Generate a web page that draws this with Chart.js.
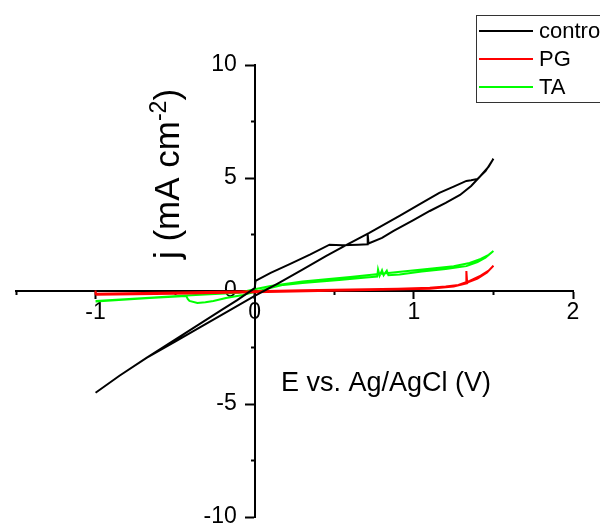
<!DOCTYPE html>
<html><head><meta charset="utf-8">
<script src="https://cdn.jsdelivr.net/npm/chart.js@4/dist/chart.umd.min.js"></script>
<style>html,body{margin:0;padding:0;background:#fff;}</style>
</head><body>
<canvas id="c" width="600" height="524"></canvas>
<script>
// ---- data ----
const seriesNames = ['control', 'PG', 'TA'];
const seriesColors = ['#000000', '#ff0000', '#00ff00'];
const xTickValues = [-1, 0, 1, 2];
const xMinorTickValues = [-1.5, -0.5, 0.5, 1.5];
const yTickValues = [-10, -5, 0, 5, 10];
const yMinorTickValues = [-7.5, -2.5, 2.5, 7.5];
const xTitle = 'E vs. Ag/AgCl (V)';
const yTitleMain = 'j (mA cm';
const yTitleSup = '-2';
const yTitleEnd = ')';

const controlE = [-1.00,-0.85,-0.68,-0.50,-0.35,-0.20,-0.11,0.00,0.005,0.10,0.22,0.35,0.47,0.55,0.65,0.71,0.71,0.715,0.80,0.87,1.00,1.10,1.20,1.29,1.36,1.42,1.47,1.50,
  1.45,1.40,1.36,1.33,1.25,1.16,1.04,0.91,0.72,0.58,0.45,0.30,0.15,0.00,-0.15,-0.35,-0.50,-0.68,-0.85,-1.00];
const controlJ = [-4.50,-3.75,-2.96,-2.15,-1.48,-0.80,-0.40,0.13,0.45,0.80,1.19,1.62,2.05,2.02,2.05,2.07,2.50,2.10,2.35,2.65,3.15,3.54,3.90,4.25,4.65,5.10,5.50,5.85,
  5.30,4.96,4.90,4.87,4.62,4.34,3.85,3.32,2.57,2.05,1.55,0.95,0.35,-0.22,-0.82,-1.63,-2.24,-2.96,-3.75,-4.50];

const pgE = [-1.00,-1.00,-0.50,0.00,0.30,0.60,0.90,1.10,1.20,1.28,1.35,1.42,1.47,1.50,
  1.46,1.40,1.34,1.33,1.33,1.335,1.25,1.10,0.80,0.40,0.00,-0.50,-1.00];
const pgJ = [0.02,-0.12,-0.07,-0.01,0.03,0.07,0.10,0.14,0.20,0.27,0.45,0.68,0.90,1.12,
  0.82,0.55,0.38,0.36,0.88,0.34,0.20,0.10,0.05,0.00,-0.06,-0.12,-0.17];

const taE = [-1.00,-0.66,-0.43,-0.42,-0.41,-0.36,-0.31,-0.26,-0.18,-0.075,0.05,0.18,0.30,0.53,0.70,0.77,0.775,0.785,0.80,0.81,0.83,0.84,0.91,1.05,1.20,1.33,1.40,1.45,1.50,
  1.47,1.42,1.35,1.25,1.10,0.90,0.60,0.30,0.10,0.00,-0.10,-0.43,-0.66,-1.00];
const taJ = [-0.46,-0.31,-0.22,-0.36,-0.44,-0.53,-0.50,-0.44,-0.31,-0.18,0.05,0.27,0.35,0.49,0.60,0.64,0.95,0.68,0.92,0.70,0.90,0.70,0.73,0.86,0.97,1.10,1.28,1.47,1.77,
  1.60,1.42,1.24,1.10,0.98,0.84,0.62,0.42,0.22,0.08,-0.08,-0.20,-0.30,-0.44];

const seriesE = [controlE, pgE, taE];
const seriesJ = [controlJ, pgJ, taJ];

const FONT = 'Arial, "Liberation Sans", sans-serif';
const X_MIN = -1.5, X_MAX = 2, Y_MIN = -10, Y_MAX = 10;
const PAD = { left: 16, right: 27, top: 65, bottom: 7 };
const yLabelGapPx = 18; // tick length + padding, left of the y axis
const yLabelAxisX = -yLabelGapPx * (X_MAX - X_MIN) / (600 - PAD.left - PAD.right);

const datasets = seriesNames.map((name, i) => ({
  label: name,
  data: seriesE[i].map((e, k) => ({x: e, y: seriesJ[i][k]})),
  borderColor: seriesColors[i],
  backgroundColor: seriesColors[i],
  borderWidth: 2,
  pointRadius: 0,
  showLine: true,
  tension: 0,
  fill: false
}));

const noPad = s => { s.paddingLeft = 0; s.paddingRight = 0; s.paddingTop = 0; s.paddingBottom = 0; };

const decor = {
  id: 'decor',
  afterDraw(chart) {
    const ctx = chart.ctx;
    ctx.save();
    ctx.fillStyle = '#000';
    // x title
    ctx.font = '27px ' + FONT;
    ctx.textAlign = 'center';
    ctx.textBaseline = 'alphabetic';
    ctx.fillText(xTitle, 386, 391);
    // y title (rotated, with superscript)
    ctx.translate(179, 174);
    ctx.rotate(-Math.PI / 2);
    const big = '35px ' + FONT, small = '23px ' + FONT;
    ctx.font = big; const w1 = ctx.measureText(yTitleMain).width; const w3 = ctx.measureText(yTitleEnd).width;
    ctx.font = small; const w2 = ctx.measureText(yTitleSup).width;
    let x0 = -(w1 + w2 + w3) / 2;
    ctx.textAlign = 'left';
    ctx.font = big; ctx.fillText(yTitleMain, x0, 0);
    ctx.font = small; ctx.fillText(yTitleSup, x0 + w1, -13);
    ctx.font = big; ctx.fillText(yTitleEnd, x0 + w1 + w2, 0);
    ctx.restore();
    // legend
    ctx.save();
    ctx.strokeStyle = '#333';
    ctx.lineWidth = 1;
    ctx.strokeRect(476.5, 15.5, 200, 87);
    ctx.font = '22px ' + FONT;
    ctx.textAlign = 'left';
    ctx.textBaseline = 'middle';
    chart.data.datasets.forEach((ds, i) => {
      const y = 31 + i * 28;
      ctx.strokeStyle = ds.borderColor;
      ctx.lineWidth = 2;
      ctx.beginPath(); ctx.moveTo(479, y); ctx.lineTo(533, y); ctx.stroke();
      ctx.fillStyle = '#000';
      ctx.fillText(ds.label, 539, y + 1);
    });
    ctx.restore();
  }
};

new Chart(document.getElementById('c'), {
  type: 'scatter',
  data: { datasets },
  options: {
    responsive: false,
    animation: false,
    devicePixelRatio: 1,
    layout: { padding: PAD },
    plugins: { legend: { display: false }, tooltip: { enabled: false } },
    scales: {
      x: {
        type: 'linear', min: X_MIN, max: X_MAX, position: { y: 0 },
        afterBuildTicks: s => { s.ticks = xTickValues.map(v => ({ value: v })); },
        afterFit: noPad,
        grid: { drawOnChartArea: false, drawTicks: true, tickLength: 7, tickWidth: 2, tickColor: '#000' },
        border: { display: true, color: '#000', width: 2 },
        ticks: { autoSkip: false, maxRotation: 0, padding: 1, color: '#000', font: { family: FONT, size: 23 }, callback: v => String(v) }
      },
      x2: {
        type: 'linear', axis: 'x', min: X_MIN, max: X_MAX, position: { y: 0 },
        afterBuildTicks: s => { s.ticks = xMinorTickValues.map(v => ({ value: v })); },
        afterFit: noPad,
        grid: { drawOnChartArea: false, drawTicks: true, tickLength: 4, tickWidth: 2, tickColor: '#000' },
        border: { display: false },
        ticks: { display: false }
      },
      y: {
        type: 'linear', min: Y_MIN, max: Y_MAX, position: { x: 0 },
        afterBuildTicks: s => { s.ticks = yTickValues.map(v => ({ value: v })); },
        afterFit: noPad,
        grid: { drawOnChartArea: false, drawTicks: true, tickLength: 9, tickWidth: 2, tickColor: '#000' },
        border: { display: true, color: '#000', width: 2 },
        ticks: { display: false }
      },
      y2: {
        type: 'linear', axis: 'y', min: Y_MIN, max: Y_MAX, position: { x: 0 },
        afterBuildTicks: s => { s.ticks = yMinorTickValues.map(v => ({ value: v })); },
        afterFit: noPad,
        grid: { drawOnChartArea: false, drawTicks: true, tickLength: 4, tickWidth: 2, tickColor: '#000' },
        border: { display: false },
        ticks: { display: false }
      },
      yLabels: {
        type: 'linear', axis: 'y', min: Y_MIN, max: Y_MAX, position: { x: yLabelAxisX },
        afterBuildTicks: s => { s.ticks = yTickValues.map(v => ({ value: v })); },
        afterFit: noPad,
        grid: { display: false },
        border: { display: false },
        ticks: { autoSkip: false, padding: 0, color: '#000', font: { family: FONT, size: 23 }, callback: v => String(v) }
      }
    }
  },
  plugins: [decor]
});
</script>
</body></html>
